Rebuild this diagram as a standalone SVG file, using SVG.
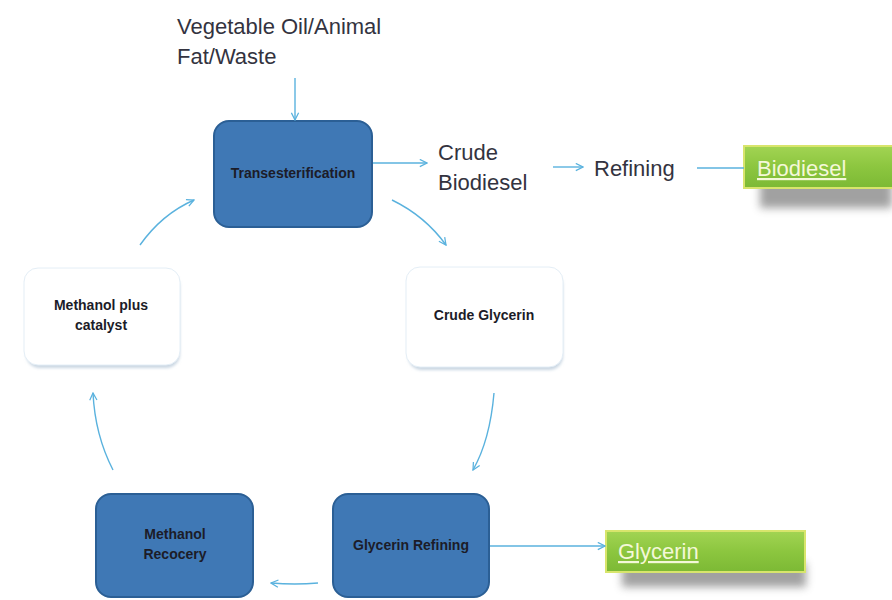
<svg xmlns="http://www.w3.org/2000/svg" width="892" height="600" viewBox="0 0 892 600">
<defs>
<marker id="ah" viewBox="0 0 10 10" refX="9" refY="5" markerWidth="9" markerHeight="9" markerUnits="userSpaceOnUse" orient="auto">
<path d="M1,1 L9,5 L1,9" fill="none" stroke="#5ab2de" stroke-width="1.4"/>
</marker>
<linearGradient id="grn" x1="0" y1="0" x2="0" y2="1">
<stop offset="0" stop-color="#a2d453"/>
<stop offset="0.5" stop-color="#8cc63f"/>
<stop offset="1" stop-color="#7cb935"/>
</linearGradient>
<filter id="sh" x="-20%" y="-30%" width="140%" height="200%">
<feGaussianBlur stdDeviation="4"/>
</filter>
<filter id="soft" x="-10%" y="-10%" width="120%" height="130%">
<feGaussianBlur stdDeviation="1.5"/>
</filter>
<style>
.blue{fill:#3f78b5;stroke:#2b5f95;stroke-width:2}
.white{fill:#ffffff;stroke:#e4eef6;stroke-width:1}
.lbl{font-family:"Liberation Sans",Arial,sans-serif;font-weight:bold;font-size:14px;fill:#1c1c28;text-anchor:middle}
.big{font-family:"Liberation Sans",Arial,sans-serif;font-size:22px;fill:#333340}
.gtxt{font-family:"Liberation Sans",Arial,sans-serif;font-size:22px;fill:#f4f8d8;text-decoration:underline}
.conn{fill:none;stroke:#5ab2de;stroke-width:1.4}
</style>
</defs>
<rect width="892" height="600" fill="#ffffff"/>

<text class="big" x="177" y="34">Vegetable Oil/Animal</text>
<text class="big" x="177" y="64">Fat/Waste</text>

<g id="transesterification">
<rect class="blue" x="214" y="121" width="158" height="106" rx="15"/>
<text class="lbl" x="293" y="178">Transesterification</text>
</g>

<g id="crude-biodiesel">
<text class="big" x="438" y="160">Crude</text>
<text class="big" x="438" y="190">Biodiesel</text>
</g>

<g id="refining">
<text class="big" x="594" y="176">Refining</text>
</g>

<g id="biodiesel">
<rect x="760" y="178" width="132" height="30" fill="#555" opacity="0.55" filter="url(#sh)"/>
<rect x="744" y="146" width="150" height="42" fill="url(#grn)" stroke="#d8e56c" stroke-width="2"/>
<text class="gtxt" x="757" y="176">Biodiesel</text>
</g>

<g id="crude-glycerin">
<rect x="408" y="272" width="155" height="98" rx="14" fill="#c9d6e2" filter="url(#soft)"/>
<rect class="white" x="406" y="267" width="157" height="100" rx="14"/>
<text class="lbl" x="484" y="320">Crude Glycerin</text>
</g>

<g id="glycerin-refining">
<rect class="blue" x="333" y="494" width="156" height="103" rx="15"/>
<text class="lbl" x="411" y="550">Glycerin Refining</text>
</g>

<g id="glycerin">
<rect x="622" y="563" width="184" height="24" fill="#555" opacity="0.55" filter="url(#sh)"/>
<rect x="606" y="531" width="199" height="41" fill="url(#grn)" stroke="#d8e56c" stroke-width="2"/>
<text class="gtxt" x="618" y="559">Glycerin</text>
</g>

<g id="methanol-recovery">
<rect class="blue" x="96" y="494" width="157" height="103" rx="15"/>
<text class="lbl" x="175" y="539">Methanol</text>
<text class="lbl" x="175" y="559">Recocery</text>
</g>

<g id="methanol-catalyst">
<rect x="26" y="273" width="154" height="95" rx="14" fill="#c9d6e2" filter="url(#soft)"/>
<rect class="white" x="24" y="268" width="156" height="97" rx="14"/>
<text class="lbl" x="101" y="310">Methanol plus</text>
<text class="lbl" x="101" y="330">catalyst</text>
</g>

<g id="connectors">
<path class="conn" d="M295,78 L295,120" marker-end="url(#ah)"/>
<path class="conn" d="M373,163 L427,163" marker-end="url(#ah)"/>
<path class="conn" d="M553,167 L583,167" marker-end="url(#ah)"/>
<path class="conn" d="M697,168 L744,168"/>
<path class="conn" d="M392,200 Q425,216 446,245" marker-end="url(#ah)"/>
<path class="conn" d="M494,393 Q490,440 473,470" marker-end="url(#ah)"/>
<path class="conn" d="M490,546 L605,546" marker-end="url(#ah)"/>
<path class="conn" d="M318,583 Q295,585 271,583" marker-end="url(#ah)"/>
<path class="conn" d="M113,470 Q95,435 93,393" marker-end="url(#ah)"/>
<path class="conn" d="M140,245 Q162,214 194,200" marker-end="url(#ah)"/>
</g>
</svg>
